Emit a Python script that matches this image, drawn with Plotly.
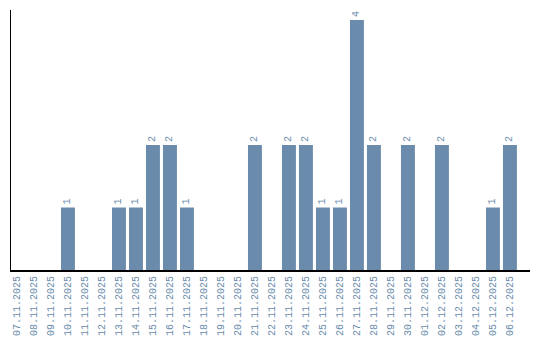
import plotly.graph_objects as go

dates = ["07.11.2025", "08.11.2025", "09.11.2025", "10.11.2025", "11.11.2025",
         "12.11.2025", "13.11.2025", "14.11.2025", "15.11.2025", "16.11.2025",
         "17.11.2025", "18.11.2025", "19.11.2025", "20.11.2025", "21.11.2025",
         "22.11.2025", "23.11.2025", "24.11.2025", "25.11.2025", "26.11.2025",
         "27.11.2025", "28.11.2025", "29.11.2025", "30.11.2025", "01.12.2025",
         "02.12.2025", "03.12.2025", "04.12.2025", "05.12.2025", "06.12.2025"]
counts = [0, 0, 0, 1, 0, 0, 1, 1, 2, 2, 1, 0, 0, 0, 2, 0, 2, 2, 1, 1, 4, 2, 0, 2, 0, 2, 0, 0, 1, 2]

labels = [str(v) if v > 0 else "" for v in counts]

bar_color = "#6a8bab"
text_color = "#6a8bab"

fig = go.Figure(go.Bar(
    x=dates, y=counts,
    marker=dict(color=bar_color, line=dict(width=0)),
    text=labels, textposition="outside", textangle=-90,
    textfont=dict(family="Liberation Mono", size=10, color=text_color),
    cliponaxis=False,
))

fig.update_layout(
    width=540, height=340,
    margin=dict(l=11, r=10, t=10, b=70, autoexpand=False),
    paper_bgcolor="white", plot_bgcolor="white",
    bargap=0.18, showlegend=False,
    uniformtext=dict(minsize=1, mode=False),
)
fig.update_xaxes(
    type="category", range=[-0.35, 30.18], automargin=False,
    showline=True, linecolor="black", linewidth=2,
    showgrid=False, ticks="", tickangle=-90,
    tickfont=dict(family="Liberation Mono", size=10, color=text_color),
)
fig.update_yaxes(
    range=[0, 4.16], showline=True, linecolor="black", linewidth=1,
    showgrid=False, zeroline=False, showticklabels=False, ticks="",
    automargin=False,
)

fig.write_html("out.html")
